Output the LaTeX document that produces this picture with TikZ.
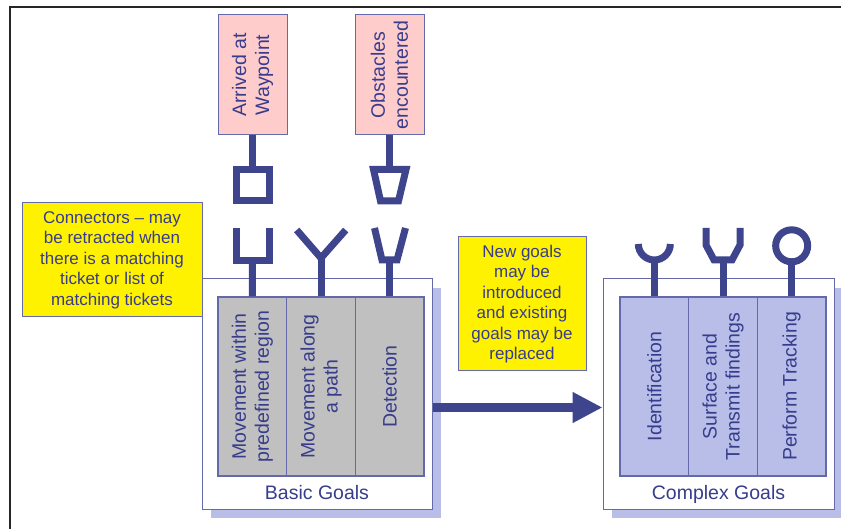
\documentclass[tikz,border=0pt]{standalone}
\usepackage{fontspec}
\setmainfont{Liberation Sans}
\usetikzlibrary{arrows.meta}
\definecolor{navy}{RGB}{62,69,140}
\definecolor{txt}{RGB}{55,60,140}
\definecolor{pinkf}{RGB}{255,204,204}
\definecolor{lav}{RGB}{184,190,232}
\definecolor{grayf}{RGB}{192,192,192}
\definecolor{bord}{RGB}{100,105,170}
\begin{document}
\begin{tikzpicture}[x=1pt,y=-1pt,
  big/.style={font=\fontsize{19.5}{23}\selectfont, text=txt, align=center, inner sep=0pt},
  note/.style={draw=bord, line width=1pt, fill=yellow, font=\fontsize{17}{20.5}\selectfont, text=txt, align=center, inner sep=0pt},
  box/.style={draw=bord, line width=1pt, inner sep=0pt},
  col/.style={draw=bord, line width=1.2pt, inner sep=0pt, minimum width=68.67pt, minimum height=179pt},
  conn/.style={draw=navy, line width=7pt, miter limit=10},
  shadowbox/.style={fill=lav},
]
\useasboundingbox (0,0) rectangle (841,529);
\fill[white] (0,0) rectangle (841,529);
\draw[line width=2pt, black!85] (10,529) -- (10,7) -- (841,7);

% event boxes
\node[box, fill=pinkf, minimum width=69pt, minimum height=120pt] (arr) at (252.5,75) {};
\node[big, rotate=90] at (arr) {Arrived at\\Waypoint};
\node[box, fill=pinkf, minimum width=69pt, minimum height=120pt] (obs) at (389.5,75) {};
\node[big, rotate=90] at (obs) {Obstacles\\encountered};

% basic goals
\fill[shadowbox] (211,288) rectangle (441,518);
\node[box, fill=white, minimum width=230pt, minimum height=230pt] (basic) at (317,394) {};
\node[col, fill=grayf] (b1) at (252.33,386.5) {};
\node[col, fill=grayf] (b2) at (321,386.5) {};
\node[col, fill=grayf] (b3) at (389.67,386.5) {};
\node[big, rotate=90] at (b1) {Movement within\\predefined region};
\node[big, rotate=90] at (b2) {Movement along\\a path};
\node[big, rotate=90] at (b3) {Detection};
\node[big, anchor=base] (bl) at (317,499) {Basic Goals};

% complex goals
\fill[shadowbox] (612,288) rectangle (843,518);
\node[box, fill=white, minimum width=231pt, minimum height=230pt] (complex) at (718.5,394) {};
\node[col, fill=lav] (c1) at (654.33,386.5) {};
\node[col, fill=lav] (c2) at (723,386.5) {};
\node[col, fill=lav] (c3) at (791.67,386.5) {};
\node[big, rotate=90] at (c1) {Identification};
\node[big, rotate=90] at (c2) {Surface and\\Transmit findings};
\node[big, rotate=90] at (c3) {Perform Tracking};
\node[big, anchor=base] (cl) at (718.5,499) {Complex Goals};

% notes
\node[note, minimum width=180pt, minimum height=114pt] (n1) at (112,260)
  {Connectors -- may\\be retracted when\\there is a matching\\ticket or list of\\matching tickets};
\node[note, minimum width=128pt, minimum height=134pt] (n2) at (522,304)
  {New goals\\may be\\introduced\\and existing\\goals may be\\replaced};

% main arrow
\coordinate (ay) at (0,407.5);
\draw[navy, line width=9pt, -{Triangle[length=30pt,width=29pt]}] (basic.east |- ay) -- (complex.west |- ay);

% plugs from events
\coordinate (sqA) at (252.5,169.5);
\draw[conn] (arr.south) -- (sqA);
\draw[conn] (236.8,169.5) rectangle (269.2,201);
\coordinate (trA) at (389.5,169.5);
\draw[conn] (obs.south) -- (trA);
\draw[conn] (373.5,169.5) -- (406,169.5) -- (398.5,201) -- (380.5,201) -- cycle;

% sockets on basic goals
\coordinate (uA) at (252.5,261);
\draw[conn] (b1.north) -- (uA);
\draw[conn] (236.8,228) -- (236.8,261) -- (269.2,261) -- (269.2,228);
\coordinate (yA) at (321,258);
\draw[conn] (b2.north) -- (yA);
\draw[conn] (296.7,230) -- (yA) -- (345.7,230);
\coordinate (vA) at (389.67,260);
\draw[conn] (b3.north) -- (vA);
\draw[conn] (374.5,228) -- (382,260) -- (397,260) -- (405.5,228);

% sockets on complex goals
\coordinate (cupA) at (654.33,260);
\draw[conn] (c1.north) -- (cupA);
\draw[conn] (638.33,244) arc[start angle=180, end angle=0, radius=16];
\coordinate (tA) at (723,260);
\draw[conn] (c2.north) -- (tA);
\draw[conn] (706,228) -- (706,245) -- (714,260) -- (732,260) -- (740,245) -- (740,228);
\coordinate (oA) at (791.67,261.8);
\draw[conn] (c3.north) -- (oA);
\draw[conn] (791.67,245.8) circle[radius=16];
\end{tikzpicture}
\end{document}
